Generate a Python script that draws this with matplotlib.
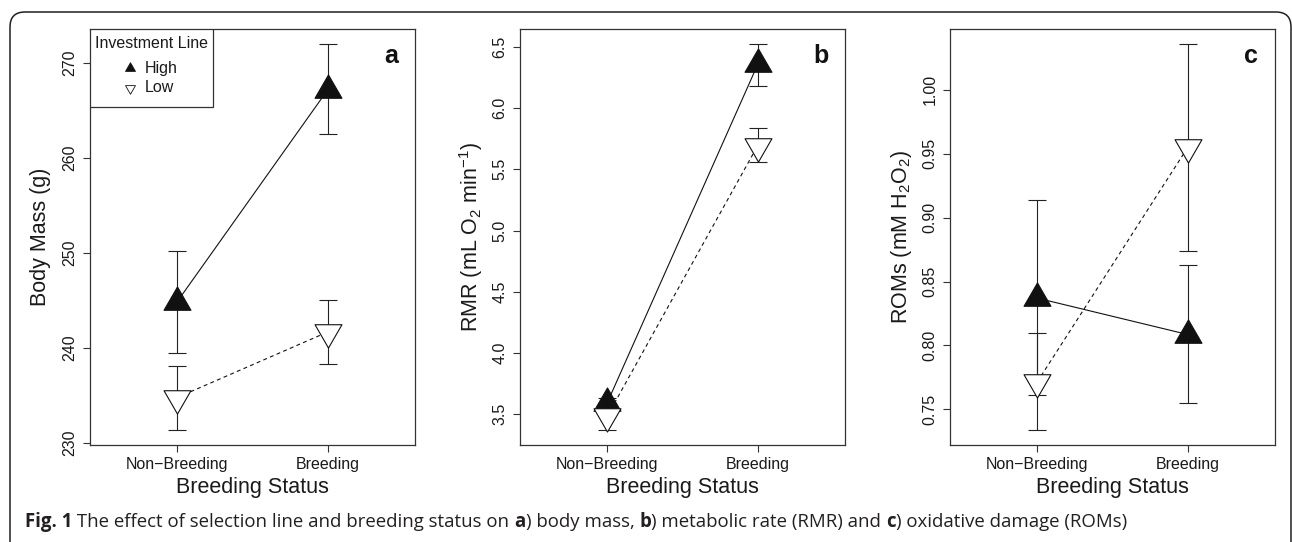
import numpy as np
import matplotlib
matplotlib.use('Agg')
import matplotlib.pyplot as plt
from matplotlib.path import Path
from matplotlib.patches import FancyBboxPatch, Rectangle
from matplotlib.transforms import IdentityTransform

plt.rcParams['font.family'] = ['Liberation Sans', 'DejaVu Sans']
plt.rcParams['mathtext.fontset'] = 'custom'
plt.rcParams['mathtext.rm'] = 'Liberation Sans'
plt.rcParams['mathtext.it'] = 'Liberation Sans:italic'
plt.rcParams['mathtext.bf'] = 'Liberation Sans:bold'

# ---------------- data ----------------
status = ['Non\u2212Breeding', 'Breeding']
line_names = ['High', 'Low']

mass_high = [244.9, 267.2]
mass_high_lo = [239.5, 262.5]
mass_high_hi = [250.2, 272.0]
mass_low = [234.8, 241.7]
mass_low_lo = [231.4, 238.3]
mass_low_hi = [238.1, 245.1]

rmr_high = [3.595, 6.355]
rmr_high_lo = [3.56, 6.18]
rmr_high_hi = [3.635, 6.52]
rmr_low = [3.486, 5.693]
rmr_low_lo = [3.37, 5.557]
rmr_low_hi = [3.59, 5.834]

roms_high = [0.837, 0.8085]
roms_high_lo = [0.761, 0.755]
roms_high_hi = [0.914, 0.863]
roms_low = [0.7714, 0.955]
roms_low_lo = [0.734, 0.874]
roms_low_hi = [0.810, 1.036]

mass_ticks = [230, 240, 250, 260, 270]
rmr_ticks = [3.5, 4.0, 4.5, 5.0, 5.5, 6.0, 6.5]
roms_ticks = [0.75, 0.80, 0.85, 0.90, 0.95, 1.00]

# ---------------- style ----------------
W, H = 1292, 542
fig = plt.figure(figsize=(W / 100, H / 100), dpi=100)
fig.patch.set_facecolor('white')

up = Path([(0, 1.155), (-1, -0.577), (1, -0.577), (0, 1.155)],
          [Path.MOVETO, Path.LINETO, Path.LINETO, Path.CLOSEPOLY])
down = Path([(0, -1.155), (-1, 0.577), (1, 0.577), (0, -1.155)],
            [Path.MOVETO, Path.LINETO, Path.LINETO, Path.CLOSEPOLY])

TXT = '#1a1a1a'
SP = '#333333'
MS = 22.4

def px_ax(left, top, right, bottom):
    return fig.add_axes([left / W, 1 - bottom / H, (right - left) / W, (bottom - top) / H])

panels = [
    dict(left=90, hi=mass_high, hlo=mass_high_lo, hhi=mass_high_hi,
         lo=mass_low, llo=mass_low_lo, lhi=mass_low_hi,
         ylim=(229.8, 273.6), ticks=mass_ticks, fmt='{:.0f}',
         ylabel='Body Mass (g)', letter='a'),
    dict(left=520, hi=rmr_high, hlo=rmr_high_lo, hhi=rmr_high_hi,
         lo=rmr_low, llo=rmr_low_lo, lhi=rmr_low_hi,
         ylim=(3.25, 6.644), ticks=rmr_ticks, fmt='{:.1f}',
         ylabel=r'RMR (mL O$\mathregular{_2}$ min$\mathregular{^{-1}}$)', letter='b'),
    dict(left=950, hi=roms_high, hlo=roms_high_lo, hhi=roms_high_hi,
         lo=roms_low, llo=roms_low_lo, lhi=roms_low_hi,
         ylim=(0.722, 1.0477), ticks=roms_ticks, fmt='{:.2f}',
         ylabel=r'ROMs (mM H$\mathregular{_2}$O$\mathregular{_2}$)', letter='c'),
]

x = np.arange(1, len(status) + 1)
AXW = 325
for i, p in enumerate(panels):
    ax = px_ax(p['left'], 29, p['left'] + AXW, 445)
    ax.set_xlim(0.42, 2.58)
    ax.set_ylim(*p['ylim'])
    for s in ax.spines.values():
        s.set_color(SP)
        s.set_linewidth(0.9)
    hi = np.array(p['hi']); lo = np.array(p['lo'])
    ax.plot(x, hi, '-', color='#111111', lw=0.8, zorder=1)
    ax.plot(x, lo, '--', color='#111111', lw=0.8, dashes=(3.5, 3), zorder=1)
    ax.errorbar(x, hi, yerr=[hi - np.array(p['hlo']), np.array(p['hhi']) - hi],
                fmt='none', ecolor='#222222', elinewidth=0.8, capsize=6.8,
                capthick=0.8, zorder=2)
    ax.errorbar(x, lo, yerr=[lo - np.array(p['llo']), np.array(p['lhi']) - lo],
                fmt='none', ecolor='#222222', elinewidth=0.8, capsize=6.8,
                capthick=0.8, zorder=2)
    ax.plot(x, hi, linestyle='none', marker=up, ms=MS, mfc='#111111',
            mec='#111111', mew=0.8, zorder=3)
    ax.plot(x, lo, linestyle='none', marker=down, ms=MS, mfc='white',
            mec='#111111', mew=0.8, zorder=4)

    ax.set_xticks(x)
    ax.set_xticklabels(status, fontsize=11.5, color=TXT)
    ax.set_yticks(p['ticks'])
    ax.set_yticklabels([p['fmt'].format(t) for t in p['ticks']], fontsize=11.5,
                       color=TXT, rotation=90, va='center')
    ax.tick_params(axis='both', direction='out', length=5, width=0.8, color=SP)
    ax.tick_params(axis='x', pad=4)
    ax.tick_params(axis='y', pad=4)
    ax.text(-49 / AXW, 0.5, p['ylabel'], transform=ax.transAxes, rotation=90,
            ha='center', va='center', fontsize=15.5, color=TXT)
    ax.text(0.5, -43 / 416, 'Breeding Status', transform=ax.transAxes,
            ha='center', va='center', fontsize=15.5, color=TXT)
    ax.text(0.948, 0.918, p['letter'], transform=ax.transAxes, ha='right',
            va='baseline', fontsize=18, fontweight='bold', color='#111111')

    if i == 0:
        lw_, lh_ = 123 / AXW, 78 / 416
        ax.add_patch(Rectangle((0, 1 - lh_), lw_, lh_, transform=ax.transAxes,
                               facecolor='white', edgecolor=SP, lw=0.9, zorder=5))
        ax.text(lw_ / 2, (445 - 43) / 416, 'Investment Line', transform=ax.transAxes,
                ha='center', va='center', fontsize=11.5, color=TXT, zorder=6)
        ax.plot([40 / AXW], [(445 - 68) / 416], transform=ax.transAxes, marker=up,
                ms=8.3, mfc='#111111', mec='#111111', mew=0.6, linestyle='none',
                zorder=6, clip_on=False)
        ax.plot([40 / AXW], [(445 - 88) / 416], transform=ax.transAxes, marker=down,
                ms=8.3, mfc='white', mec='#111111', mew=0.6, linestyle='none',
                zorder=6, clip_on=False)
        ax.text(55 / AXW, (445 - 68) / 416, line_names[0], transform=ax.transAxes,
                ha='left', va='center', fontsize=11.5, color=TXT, zorder=6)
        ax.text(55 / AXW, (445 - 88) / 416, line_names[1], transform=ax.transAxes,
                ha='left', va='center', fontsize=11.5, color=TXT, zorder=6)

# rounded frame
frame = FancyBboxPatch((10, -40), 1281, 542 - 12 + 40,
                       boxstyle='round,pad=0,rounding_size=15',
                       transform=IdentityTransform(), facecolor='none',
                       edgecolor='#231f20', lw=1.1)
fig.patches.append(frame)

# caption with mixed bold
pieces = [('Fig. 1', 'bold'), (' The effect of selection line and breeding status on ', 'normal'),
          ('a', 'bold'), (') body mass, ', 'normal'), ('b', 'bold'),
          (') metabolic rate (RMR) and ', 'normal'), ('c', 'bold'),
          (') oxidative damage (ROMs)', 'normal')]
renderer = fig.canvas.get_renderer()
cx = 25
for txt, wt in pieces:
    t = fig.text(cx / W, 1 - 527 / H, txt, fontsize=13.4, fontweight=wt,
                 family=['Open Sans', 'DejaVu Sans'], color='#231f20',
                 ha='left', va='baseline')
    bb = t.get_window_extent(renderer=renderer)
    cx += bb.width

fig.savefig('out.png', dpi=100)
